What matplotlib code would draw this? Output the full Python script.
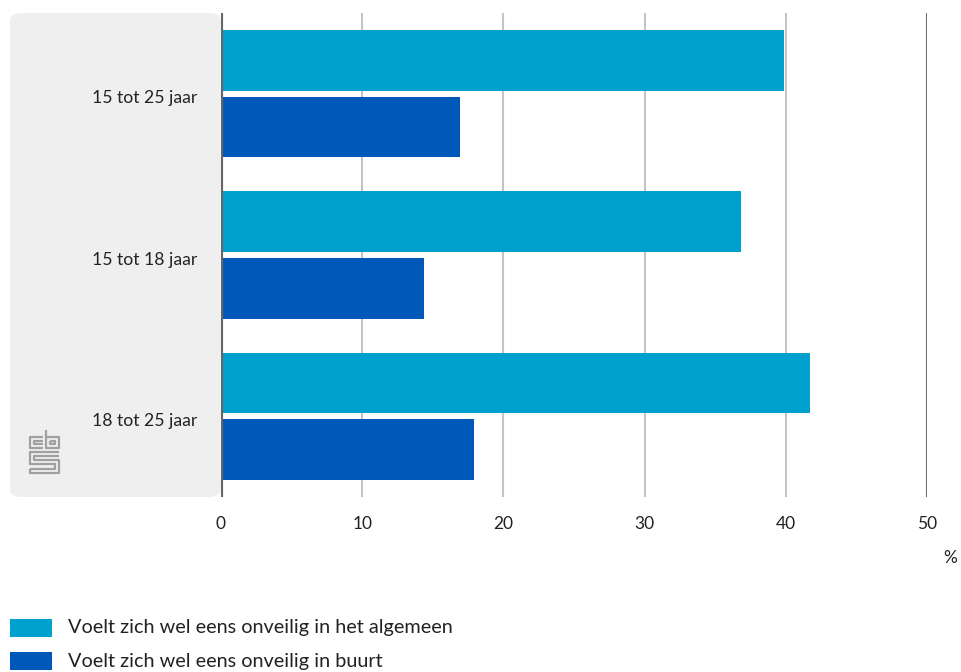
import matplotlib
matplotlib.use('Agg')
import matplotlib.pyplot as plt
from matplotlib.patches import FancyBboxPatch, Rectangle

plt.rcParams['font.family'] = ['Lato', 'DejaVu Sans']

categories = ['15 tot 25 jaar', '15 tot 18 jaar', '18 tot 25 jaar']
algemeen = [39.9, 36.8, 41.7]
buurt = [16.9, 14.4, 17.9]
series_labels = ['Voelt zich wel eens onveilig in het algemeen',
                 'Voelt zich wel eens onveilig in buurt']
colors = ['#00a1cd', '#0058b8']
xticks = [0, 10, 20, 30, 40, 50]

W, H = 961, 672
fig = plt.figure(figsize=(W / 100, H / 100), dpi=100)

# grey panel behind category labels
panel = FancyBboxPatch((10 / W, 1 - 497 / H), 211 / W, 484 / H,
                       boxstyle='round,pad=0,rounding_size=0.012',
                       transform=fig.transFigure, facecolor='#efefef',
                       edgecolor='none', zorder=-1)
fig.patches.append(panel)

ax = fig.add_axes([221 / W, 1 - 497 / H, 706 / W, 484 / H])
ax.set_facecolor('none')

y = list(range(len(categories)))
h = 0.377
off = 0.207
ax.barh([v - off for v in y], algemeen, height=h, color=colors[0], zorder=3)
ax.barh([v + off for v in y], buurt, height=h, color=colors[1], zorder=3)

ax.set_xlim(0, 50)
ax.set_ylim(2.5, -0.5)
for t in xticks[1:-1]:
    ax.axvline(t, color='#c4c4c4', lw=1.5, zorder=1)
ax.axvline(50, color='#707070', lw=1.5, zorder=1)
ax.axvline(0, color='#666666', lw=3, zorder=4)

for s in ax.spines.values():
    s.set_visible(False)
ax.set_xticks(xticks)
ax.set_xticklabels([str(t) for t in xticks], fontsize=12.5, color='#222222')
ax.tick_params(axis='x', length=0, pad=14)
ax.set_yticks([v + 0.02 for v in y])
ax.set_yticklabels(categories, fontsize=12.7, color='#222222')
ax.tick_params(axis='y', length=0, pad=17)

fig.text(950 / W, 1 - 558 / H, '%', fontsize=12.5, color='#222222',
         ha='center', va='center')

# legend
for i, (lab, c) in enumerate(zip(series_labels, colors)):
    yc = 628 + i * 33
    fig.patches.append(Rectangle((10 / W, 1 - (yc + 9) / H), 42 / W, 18 / H,
                                 transform=fig.transFigure, facecolor=c,
                                 edgecolor='none'))
    fig.text(68 / W, 1 - yc / H, lab, fontsize=14.3, color='#222222',
             va='center', ha='left')

# simplified cbs logo
logo = fig.add_axes([28 / W, 1 - 477 / H, 34 / W, 48 / H])
logo.set_xlim(0, 34)
logo.set_ylim(48, 0)
logo.axis('off')
lk = dict(color='#a0a0a0', lw=1.6, solid_capstyle='butt')
# c
logo.plot([15, 2, 2, 15], [8, 8, 19, 19], **lk)
logo.plot([15, 6, 6, 15], [12, 12, 15, 15], **lk)
# b
logo.plot([18, 18, 31, 31, 18], [1, 19, 19, 8, 8], **lk)
logo.plot([22, 22, 27, 27, 22], [12, 15, 15, 12, 12], **lk)
# s
logo.plot([31, 2, 2, 27, 27, 2], [23, 23, 35, 35, 40, 40], **lk)
logo.plot([31, 6, 6, 31, 31, 2, 2], [27, 27, 31, 31, 44, 44, 40], **lk)

fig.savefig('out.png', dpi=100)
